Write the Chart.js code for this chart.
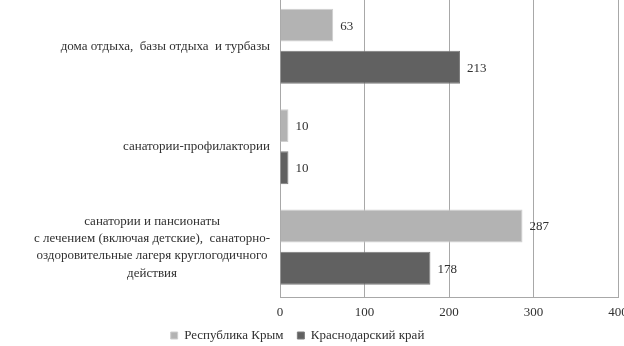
<!DOCTYPE html>
<html>
<head>
<meta charset="utf-8">
<script src="https://cdn.jsdelivr.net/npm/chart.js@4.4.1/dist/chart.umd.min.js"></script>
<style>
  html, body { margin: 0; padding: 0; background: #fff; }
  #wrap { position: relative; width: 624px; height: 346px; overflow: hidden; }
  #box { position: absolute; left: -23px; top: -4px; width: 831px; height: 368px; }
</style>
</head>
<body>
<div id="wrap"><div id="box"><canvas id="resortChart"></canvas></div></div>
<script>
var categories = [
  ['дома отдыха,  базы отдыха  и турбазы'],
  ['санатории-профилактории'],
  ['санатории и пансионаты', 'с лечением (включая детские),  санаторно-', 'оздоровительные лагеря круглогодичного', 'действия']
];
var crimea = [63, 10, 287];
var krasnodar = [213, 10, 178];
var xTicks = [0, 100, 200, 300, 400];

var serif = '"Liberation Serif", "Times New Roman", serif';

// подписи значений справа от столбцов
var valueLabels = {
  id: 'valueLabels',
  afterDatasetsDraw: function (chart) {
    var ctx = chart.ctx;
    ctx.save();
    ctx.font = '13px ' + serif;
    ctx.fillStyle = '#303030';
    ctx.textAlign = 'left';
    ctx.textBaseline = 'middle';
    chart.data.datasets.forEach(function (ds, i) {
      chart.getDatasetMeta(i).data.forEach(function (bar, j) {
        ctx.fillText(ds.data[j], bar.x + 7, bar.y + 1);
      });
    });
    ctx.restore();
  }
};

// подписи категорий: блок прижат к оси, строки по центру
var categoryLabels = {
  id: 'categoryLabels',
  afterDraw: function (chart) {
    var ctx = chart.ctx;
    var y = chart.scales.y;
    var right = chart.chartArea.left - 10;
    var lh = 17.3;
    ctx.save();
    ctx.font = '13px ' + serif;
    ctx.fillStyle = '#303030';
    ctx.textAlign = 'center';
    ctx.textBaseline = 'middle';
    chart.data.labels.forEach(function (lines, i) {
      var w = 0;
      lines.forEach(function (t) { w = Math.max(w, ctx.measureText(t).width); });
      var cx = right - w / 2;
      var cy = y.getPixelForTick(i);
      var top = cy - (lines.length - 1) * lh / 2;
      lines.forEach(function (t, k) { ctx.fillText(t, cx, top + k * lh); });
    });
    ctx.restore();
  }
};

// легенда чуть ближе к оси
var legendShift = {
  id: 'legendShift',
  afterLayout: function (chart) {
    if (chart.legend) { chart.legend.top -= 12; chart.legend.bottom -= 12; }
  }
};

var ctx = document.getElementById('resortChart').getContext('2d');
var myChart = new Chart(ctx, {
  type: 'bar',
  data: {
    labels: categories,
    datasets: [{
      label: 'Республика Крым',
      data: crimea,
      backgroundColor: '#b3b3b3',
      borderColor: '#cfcfcf',
      borderWidth: 1
    }, {
      label: 'Краснодарский край',
      data: krasnodar,
      backgroundColor: '#616161',
      borderColor: '#7c7c7c',
      borderWidth: 1
    }]
  },
  options: {
    indexAxis: 'y',
    responsive: true,
    maintainAspectRatio: false,
    animation: false,
    categoryPercentage: 0.84,
    barPercentage: 0.78,
    layout: { padding: { left: 0, right: 190, top: 0, bottom: 0 } },
    scales: {
      x: {
        min: xTicks[0],
        max: xTicks[xTicks.length - 1],
        afterBuildTicks: function (scale) {
          scale.ticks = xTicks.map(function (v) { return { value: v }; });
        },
        grid: { color: '#a8a8a8', drawTicks: false },
        border: { color: '#a8a8a8' },
        ticks: { padding: 7, color: '#303030', font: { family: serif, size: 13 } }
      },
      y: {
        grid: { display: false },
        border: { color: '#a8a8a8' },
        ticks: { display: false },
        afterFit: function (scale) { scale.width = 303; }
      }
    },
    plugins: {
      legend: {
        position: 'bottom',
        labels: {
          boxWidth: 7,
          boxHeight: 7,
          padding: 14,
          color: '#303030',
          font: { family: serif, size: 13 }
        }
      },
      tooltip: { enabled: false }
    }
  },
  plugins: [valueLabels, categoryLabels, legendShift]
});
</script>
</body>
</html>
